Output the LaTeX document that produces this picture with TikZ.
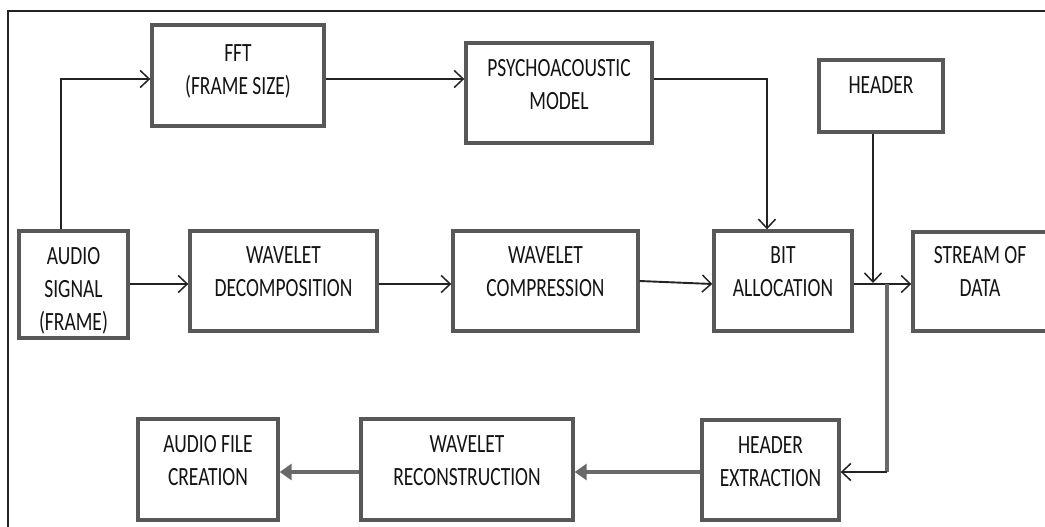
\documentclass[tikz,border=0pt]{standalone}
\usepackage{fontspec}
\setmainfont{Carlito}
\usetikzlibrary{arrows.meta}
\definecolor{boxgray}{RGB}{88,88,88}
\definecolor{linegray}{RGB}{35,35,35}
\definecolor{thickgray}{RGB}{105,105,105}
\definecolor{txt}{RGB}{20,20,20}
\newcommand\bt[2]{\raisebox{#1}[\height][\depth]{\scalebox{1}[1.35]{\begin{tabular}{@{}c@{}}#2\end{tabular}}}}
\tikzset{
  blk/.style={draw=boxgray, line width=3.4pt, fill=white, inner sep=0pt,
    text=txt, font=\fontsize{19.5}{24.5}\selectfont},
  conn/.style={draw=linegray, line width=1.9pt,
    -{Straight Barb[length=9pt,width=17pt,line width=1.5pt]}},
  plain/.style={draw=linegray, line width=1.9pt},
  thick/.style={draw=thickgray, line width=4.5pt,
    -{Triangle[length=12pt,width=16pt]}},
  thickplain/.style={draw=thickgray, line width=4pt},
  frame/.style={draw=linegray, line width=2.8pt}
}
\begin{document}
\begin{tikzpicture}[x=1pt,y=-1pt]
\useasboundingbox (0,0) rectangle (1045,527);
\clip (0,0) rectangle (1045,527);
\fill[white] (0,0) rectangle (1045,527);
\coordinate (f0) at (8,540);
\coordinate (f1) at (8,11);
\coordinate (f2) at (1060,11);
\draw[frame] (f0) -- (f1) -- (f2);

\node[blk, minimum width=172pt, minimum height=101pt] (fft) at (238,75.5) {\bt{4pt}{FFT\\(FRAME SIZE)}};
\node[blk, minimum width=186pt, minimum height=100pt] (psy) at (559,93) {\bt{7pt}{PSYCHOACOUSTIC\\MODEL}};
\node[blk, minimum width=124pt, minimum height=72pt] (hdr) at (881,96) {\bt{9pt}{HEADER}};
\node[blk, minimum width=109pt, minimum height=107pt] (audio) at (73.5,284.5) {\bt{-6pt}{AUDIO\\SIGNAL\\(FRAME)}};
\node[blk, minimum width=187pt, minimum height=100pt] (wdec) at (283.5,281) {\bt{8pt}{WAVELET\\DECOMPOSITION}};
\node[blk, minimum width=185pt, minimum height=100pt] (wcomp) at (545.5,281) {\bt{8pt}{WAVELET\\COMPRESSION}};
\node[blk, minimum width=138pt, minimum height=100pt] (bit) at (783,281) {\bt{8pt}{BIT\\ALLOCATION}};
\node[blk, minimum width=134pt, minimum height=99pt] (stream) at (980,281.5) {\bt{8pt}{STREAM OF\\DATA}};
\node[blk, minimum width=140pt, minimum height=101pt] (afc) at (208,469.5) {\bt{7pt}{AUDIO FILE\\CREATION}};
\node[blk, minimum width=212pt, minimum height=101pt] (wrec) at (467,469.5) {\bt{7pt}{WAVELET\\RECONSTRUCTION}};
\node[blk, minimum width=137pt, minimum height=100pt] (hext) at (770.5,470) {\bt{7pt}{HEADER\\EXTRACTION}};

\coordinate (c1) at (61,79);
\coordinate (c2) at (767,79);
\coordinate (c3) at (873,283);
\coordinate (r1) at (0,284);
\coordinate (r1a) at (0,281);
\coordinate (b1) at (887,284);
\coordinate (b2) at (887,472);

\draw[conn] (audio.north -| c1) -- (c1) -- (c1 -| fft.west);
\draw[conn] (fft.east |- c1) -- (psy.west |- c1);
\draw[conn] (psy.east |- c2) -- (c2) -- (c2 |- bit.north);
\draw[conn] (hdr.south -| c3) -- (c3);
\draw[conn] (audio.east |- r1) -- (wdec.west |- r1);
\draw[conn] (wdec.east |- r1) -- (wcomp.west |- r1);
\draw[conn] (wcomp.east |- r1a) -- (bit.west |- r1);
\draw[conn] (bit.east |- r1) -- (stream.west |- r1);
\draw[thickplain] (b1) -- (b2);
\draw[conn] (b2) -- (hext.east |- b2);
\draw[thick] (hext.west |- b2) -- (wrec.east |- b2);
\draw[thick] (wrec.west |- b2) -- (afc.east |- b2);
\end{tikzpicture}
\end{document}
